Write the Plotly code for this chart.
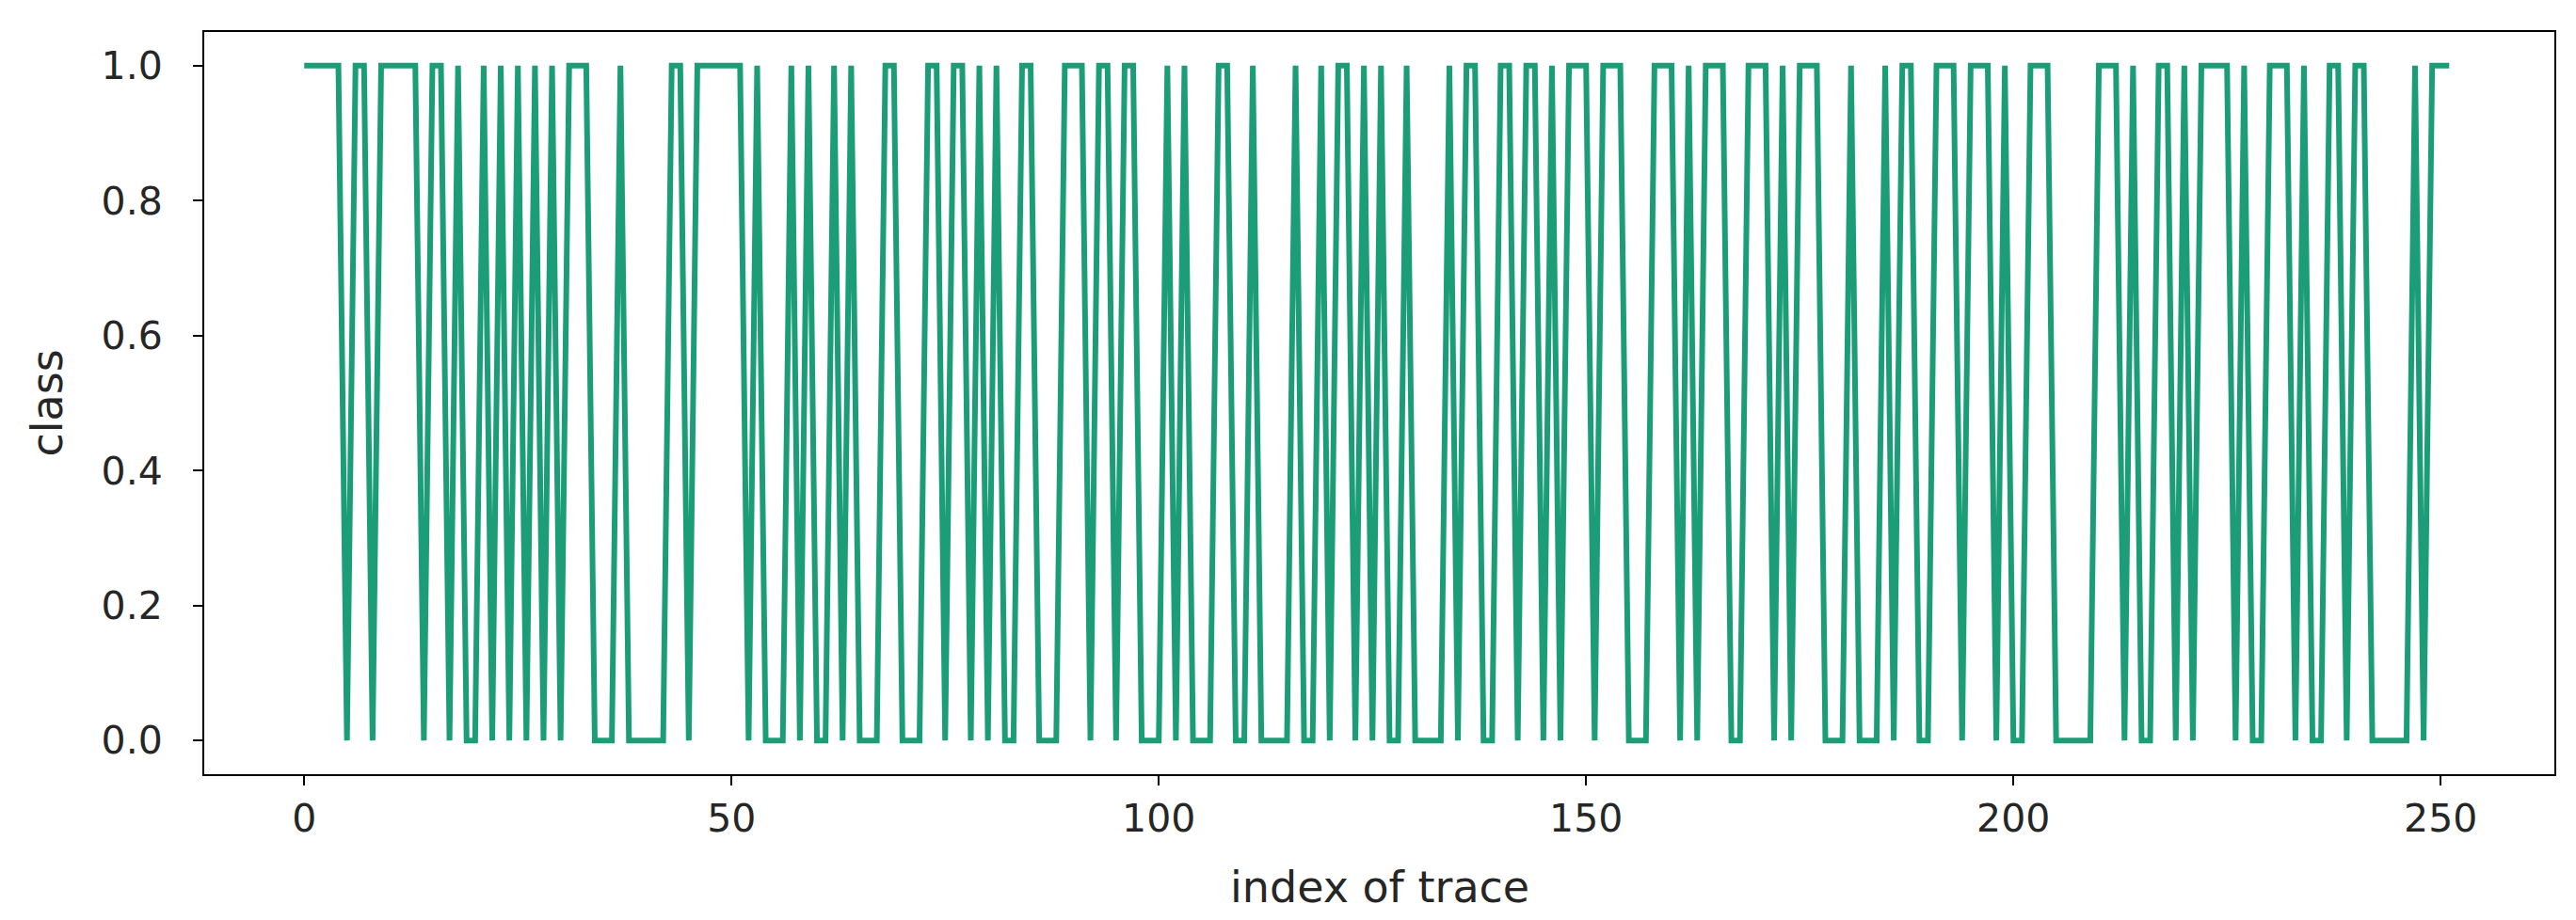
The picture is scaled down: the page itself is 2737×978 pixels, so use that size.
import plotly.graph_objects as go

# class value of each trace (index 0..251)
class_values = [
    1, 1, 1, 1, 1, 0, 1, 1, 0, 1,   # 0-9
    1, 1, 1, 1, 0, 1, 1, 0, 1, 0,   # 10-19
    0, 1, 0, 1, 0, 1, 0, 1, 0, 1,   # 20-29
    0, 1, 1, 1, 0, 0, 0, 1, 0, 0,   # 30-39
    0, 0, 0, 1, 1, 0, 1, 1, 1, 1,   # 40-49
    1, 1, 0, 1, 0, 0, 0, 1, 0, 1,   # 50-59
    0, 0, 1, 0, 1, 0, 0, 0, 1, 1,   # 60-69
    0, 0, 0, 1, 1, 0, 1, 1, 0, 1,   # 70-79
    0, 1, 0, 0, 1, 1, 0, 0, 0, 1,   # 80-89
    1, 1, 0, 1, 1, 0, 1, 1, 0, 0,   # 90-99
    0, 1, 0, 1, 0, 0, 0, 1, 1, 0,   # 100-109
    0, 1, 0, 0, 0, 0, 1, 0, 0, 1,   # 110-119
    0, 1, 1, 0, 1, 0, 1, 0, 0, 1,   # 120-129
    0, 0, 0, 0, 1, 0, 1, 1, 0, 0,   # 130-139
    1, 1, 0, 1, 1, 0, 1, 0, 1, 1,   # 140-149
    1, 0, 1, 1, 1, 0, 0, 0, 1, 1,   # 150-159
    1, 0, 1, 0, 1, 1, 1, 0, 0, 1,   # 160-169
    1, 1, 0, 1, 0, 1, 1, 1, 0, 0,   # 170-179
    0, 1, 0, 0, 0, 1, 0, 1, 1, 0,   # 180-189
    0, 1, 1, 1, 0, 1, 1, 1, 0, 1,   # 190-199
    0, 0, 1, 1, 1, 0, 0, 0, 0, 0,   # 200-209
    1, 1, 1, 0, 1, 0, 0, 1, 1, 0,   # 210-219
    1, 0, 1, 1, 1, 1, 0, 1, 0, 0,   # 220-229
    1, 1, 1, 0, 1, 0, 0, 1, 1, 0,   # 230-239
    1, 1, 0, 0, 0, 0, 0, 1, 0, 1,   # 240-249
    1, 1,                           # 250-251
]
trace_index = list(range(len(class_values)))

x_ticks = [0, 50, 100, 150, 200, 250]
y_ticks = [0.0, 0.2, 0.4, 0.6, 0.8, 1.0]
y_tick_text = ["0.0", "0.2", "0.4", "0.6", "0.8", "1.0"]
x_title = "index of trace"
y_title = "class"

line_color = "#1b9e77"
text_color = "#262626"
font_family = "DejaVu Sans, Liberation Sans, sans-serif"
tick_size = 41
title_size = 46

fig = go.Figure()
fig.add_trace(go.Scatter(
    x=trace_index, y=class_values, mode="lines",
    line=dict(color=line_color, width=6),
    showlegend=False,
))

fig.update_layout(
    width=2737, height=978,
    paper_bgcolor="white", plot_bgcolor="white",
    margin=dict(l=209, r=31, t=26, b=163, autoexpand=False),
    font=dict(family=font_family, size=tick_size, color=text_color),
)
axis_common = dict(
    ticks="outside", ticklen=10, tickwidth=2, tickcolor="#000",
    showline=True, mirror=True, linecolor="#000", linewidth=2,
    showgrid=False, zeroline=False,
    tickfont=dict(size=tick_size, color=text_color),
)
fig.update_xaxes(range=[-11.7, 263.3], tickmode="array", tickvals=x_ticks,
                 ticklabelstandoff=0, **axis_common)
fig.update_yaxes(range=[-0.05, 1.05], tickmode="array", tickvals=y_ticks,
                 ticktext=y_tick_text, ticklabelstandoff=24, **axis_common)

# axis titles placed as text in pixel offsets from the plot frame
fig.add_annotation(text=x_title, xref="paper", yref="paper", x=0.5, y=0,
                   xanchor="center", yanchor="middle", yshift=-120,
                   showarrow=False, font=dict(size=title_size, color=text_color))
fig.add_annotation(text=y_title, xref="paper", yref="paper", x=0, y=0.5,
                   xanchor="center", yanchor="middle", xshift=-168, textangle=-90,
                   showarrow=False, font=dict(size=title_size, color=text_color))

fig.write_html("out.html")
